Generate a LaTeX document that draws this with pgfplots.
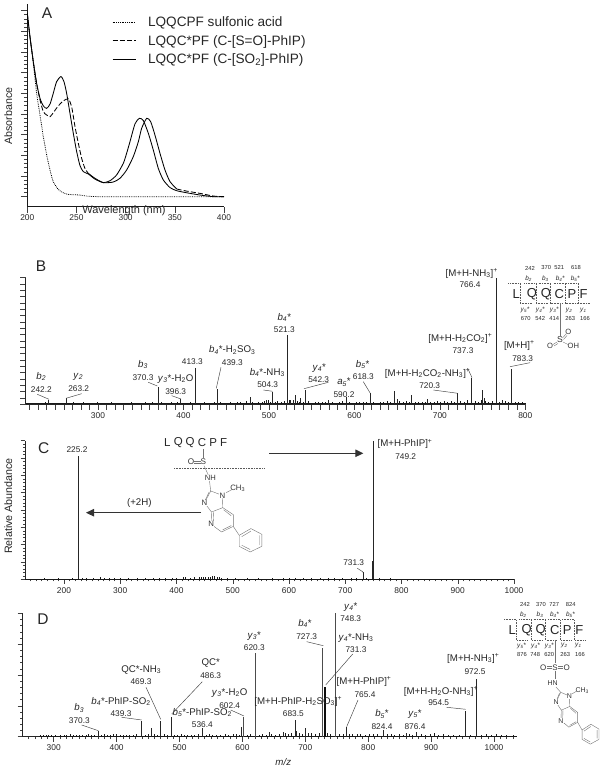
\documentclass[border=0pt]{standalone}
\usepackage{fontspec}
\setmainfont{Liberation Sans}
\usepackage{pgfplots}
\pgfplotsset{compat=1.18}
\usetikzlibrary{arrows.meta}

\newcommand\fs[1]{\fontsize{#1}{#1}\selectfont}
\newcommand\nm[3]{\node[txt,font=\fs{8.3}] at (#1,#2) {#3};}
\newcommand\ion[3]{\node[txt,font=\fs{9.7}] at (#1,#2) {#3};}
\newcommand\tn[3]{\node[txt,font=\fs{5.8}] at (#1,#2) {#3};}
\newcommand\pan[3]{\node[txt,font=\fs{15.5}] at (#1,#2) {#3};}
\newcommand\bb[1]{\textit{b}\textsubscript{\textit{#1}}}
\newcommand\yy[1]{\textit{y}\textsubscript{\textit{#1}}}
\newcommand\aion[1]{\textit{a}\textsubscript{\textit{#1}}}
\newcommand\sub[1]{\textsubscript{#1}}
\newcommand\sps{\textsuperscript{+}}

% imidazopyridine + phenyl, origin at C2, #1 = font size
\newcommand\phip[1]{
  \draw[bnd] (0,0)--(-6.2,13.7)--(0.8,24.6)--(12.1,19.5)--(11.7,5.1)--cycle;
  \draw[bnd] (-1.5,1)--(-6,12);
  \draw[bnd] (0.8,24.6)--(0.4,39)--(10.9,48)--(22.6,41.4)--(22.6,27.7)--(12.1,19.5);
  \draw[bnd] (3,25)--(2.6,37.5) (12,45.5)--(20.5,40.5) (20.5,29)--(13,22);
  \draw[bnd] (13,3.5)--(21,-1.5);
  \draw[bnd] (22.6,41.4)--(28.5,51.9);
  \draw[bnd] (28.5,51.9)--(40.2,44)--(51.1,50.7)--(51.1,64.8)--(39.4,71.4)--(28.5,64.8)--cycle;
  \draw[bnd] (31,53.5)--(40.2,47) (48.5,52)--(48.5,63.5) (39.4,68.5)--(31,63.5);
  \node[chem,font=\fs{#1},fill=white] at (-6.2,13.7) {N};
  \node[chem,font=\fs{#1},fill=white] at (11.7,5.1) {N};
  \node[chem,font=\fs{#1},fill=white] at (0.4,39) {N};
  \node[chem,font=\fs{#1},anchor=west] at (19,-3) {CH\sub{3}};
}

\pgfplotsset{
  spec/.style={
    scale only axis, axis lines=left, axis line style={-,black!85,line width=.7pt},
    tick align=outside, every tick/.style={black!75,line width=.45pt},
    ytick distance=25, yticklabels={},
    major tick length=5pt, minor tick length=3pt,
    xtick distance=100,
    ymin=0, ymax=100,
    tick label style={font=\fs{8.4},text=black!85},
    /pgf/number format/assume math mode=true,
    /pgf/number format/1000 sep={},
    clip=false,
  },
  pk/.style={ycomb,black!85,line width=.55pt,mark=none},
  nz/.style={ycomb,black!90,line width=.5pt,mark=none},
}
\tikzset{
  txt/.style={text=black!85,inner sep=0pt,align=center},
  ld/.style={black!75,line width=.45pt},
  bnd/.style={black!55,line width=.4pt},
  dot/.style={black!65,line width=.6pt,densely dotted},
  chem/.style={text=black!80,inner sep=.4pt},
}

\begin{document}
\begin{tikzpicture}
\path[use as bounding box] (0,0) rectangle (603pt,770pt);

% ---------- A
\begin{axis}[
  at={(27.3pt,563.3pt)}, anchor=south west,
  scale only axis, width=196.7pt, height=202.7pt,
  axis lines=left, axis line style={-,black!90,line width=.8pt},
  tick align=outside, every tick/.style={black!75,line width=.5pt},
  xmin=200, xmax=400, ymin=-0.484, ymax=9.32,
  xtick={200,250,300,350,400},
  ytick={0,1,...,9}, yticklabels={}, minor y tick num=4,
  major tick length=6.5pt, minor tick length=3.5pt,
  tick label style={font=\fs{8.4},text=black!85},
  /pgf/number format/assume math mode=true,
  xticklabel style={yshift=2.5pt},
  legend style={at={(0.43,0.942)},anchor=north west,draw=none,fill=none,
    font=\fs{13.6},text=black!85,row sep=4.6pt,inner sep=0pt,
    nodes={inner sep=1.1pt}},
  legend cell align=left,
  legend image code/.code={\draw[#1] (0,0)--(23pt,0);},
]
\addplot[black,line width=.8pt,densely dotted,smooth,tension=.4] coordinates {
(200,8.87)(202.7,7.74)(206.1,6.45)(209.5,5)(212.9,3.95)(216.3,2.9)(219.7,2.02)(223.1,1.29)(226.4,.73)(231.5,.35)(236.6,.19)(241.7,.11)(253.6,.08)(273.9,0)(400,0)};
\addlegendentry{\hspace{11pt}LQQCPF sulfonic acid}
\addplot[black,line width=.85pt,dash pattern=on 5pt off 2.2pt,smooth,tension=.4] coordinates {
(200,8.87)(202.7,7.74)(206.1,6.53)(209.5,5.48)(212.9,4.68)(216.3,4.11)(219.7,3.95)(223.1,3.87)(226.4,4.06)(231.5,4.39)(236.6,4.63)(241.7,4.73)(245.1,4.35)(248.5,3.39)(251.9,2.58)(255.3,1.85)(258.6,1.37)(262,1.13)};
\addlegendentry{\hspace{11pt}LQQC*PF (C-[S=O]-PhIP)}
\addplot[black,line width=.85pt,smooth,tension=.4] coordinates {
(200,8.87)(202.7,7.74)(206.1,6.53)(209.5,5.48)(212.9,4.76)(216.3,4.39)(219.7,4.27)(223.1,4.48)(226.4,5)(229.8,5.56)(234.2,5.81)(237.3,5.56)(240,5)(243.4,4.03)(246.8,3.06)(250.2,2.18)(253.6,1.5)(257,1.21)(262,1.1)(268.8,.85)(277.3,.68)(284,.77)(290.8,1.05)(297.6,1.61)(301,2.1)(304.4,2.66)(309.5,3.52)(313.9,3.79)(318,3.68)(323.1,3.06)(328.1,2.26)(333.2,1.37)(338.3,.81)(345.1,.44)(351.9,.29)(362,.19)(375.6,.08)(389.2,0)(400,0)};
\addlegendentry{\hspace{11pt}LQQC*PF (C-[SO\sub{2}]-PhIP)}
\addplot[forget plot,black,line width=.85pt,smooth,tension=.4] coordinates {
(262,1.13)(268.8,.89)(277.3,.68)(287.5,.71)(294.2,.89)(301,1.29)(307.8,1.94)(312.9,2.66)(316.3,3.31)(321.4,3.79)(325.4,3.63)(329.8,2.98)(334.9,2.1)(340,1.29)(345.1,.73)(351.9,.37)};
\addplot[forget plot,black,line width=.85pt,dash pattern=on 5pt off 2.2pt,smooth,tension=.4] coordinates {
(351.9,.37)(362,.27)(375.6,.16)(389.2,.03)(400,0)};
\end{axis}

% ---------- B
\begin{axis}[spec,
  at={(25.7pt,365.7pt)}, anchor=south west, width=499.6pt, height=126.6pt,
  xmin=215.4, xmax=800,
  minor xtick={220,230,...,800},
  major tick length=5.5pt, minor tick length=5.5pt,
  minor y tick num=4,
  xticklabel style={yshift=.5pt},
]
\addplot[black!90,line width=.8pt] coordinates {(216,.5)(800,.5)};
\addplot[nz] coordinates {
(218,.8)(223,1.2)(226,.7)(231,1.1)(235,.8)(238,1.6)(246,1)(250,.8)(254,1.4)(258,.9)(267,1.2)(271,1.5)(275,.8)(279,1.1)(283,1.7)(287,.9)(291,1.2)(295,.8)(299,1.5)(303,1)(307,.8)(311,1.3)(315,1.6)(319,.9)(323,1.1)(327,.8)(331,1.4)(335,1)(339,1.7)(343,.8)(347,1.2)(351,1)(355,1.5)(359,.9)(363,1.8)(367,1.1)(374,1.5)(378,1)(382,.8)(386,1.6)(390,1.1)(393,1.9)(400,1.3)(404,.9)(408,1.7)(416,1.4)(420,1)(424,1.8)(428,1.2)(432,.9)(436,1.6)(443,1.8)(447,1.1)(451,1.4)(455,2)(459,1.2)(463,1.6)(467,2.2)(471,1.3)(474,2.4)(481,1.9)(484,1.4)(488,2.2)(492,1.6)(495,2.7)(499,3)(502,2)(507,1.7)(510,2.4)(514,1.5)(518,2.8)(524,3)(533,2.3)(536,1.9)(540,2.2)(546,2.7)(550,1.4)(554,2)(558,1.6)(562,2.2)(566,1.5)(574,1.9)(578,1.4)(582,1.8)(586,2.4)(594,2)(598,1.4)(602,1.9)(606,1.5)(610,2.1)(614,1.6)(622,2)(626,1.4)(630,2.2)(634,1.8)(638,2.5)(642,1.6)(653,2.3)(657,1.7)(661,2.4)(664,1.8)(671,2.1)(675,1.5)(679,2.2)(683,1.8)(689,2)(693,1.5)(697,2.5)(701,1.8)(705,2.6)(709,1.9)(713,2.4)(717,1.7)(724,2.7)(728,1.9)(732,3)(741,2.5)(745,1.7)(748,3.5)(753,2.6)(757,1.8)(761,2.5)(770,2.1)(777,2.4)(780,1.7)(788,2.2)(792,1.8)(796,1.5)(800,1)};
\addplot[pk] coordinates {
(242.2,3.4)(263.2,4.7)(370.3,14)(396.3,4)(413.3,29)(439.3,12)(478,6)(497,3)(504.3,10)(521.3,55)(525,3.5)(528,3)(531,7)(537,5)(542.3,11)(570,3.4)(590.2,6)(618.3,8.7)(647,10.5)(650,4.5)(667,7.4)(685,4.5)(720.3,8.7)(737.3,21)(750,11)(752,5)(766.4,100)(773,3.5)(783.3,28)};
\addplot[ycomb,black!85,line width=1.2pt,mark=none] coordinates {(766.1,39)(783.6,15)(749.5,5)};
\end{axis}

% ---------- C
\begin{axis}[spec,
  at={(25pt,190.7pt)}, anchor=south west, width=489pt, height=138.6pt,
  xmin=130.7, xmax=1000,
  minor xtick={140,150,...,1000},
  ytick distance=12.5, minor y tick num=4,
  major tick length=4.5pt, minor tick length=2.2pt,
  xticklabel style={yshift=-.8pt},
]
\addplot[black!90,line width=.7pt] coordinates {(131,.2)(1000,.2)};
\addplot[nz] coordinates {
(150,.4)(165,.6)(172,.4)(190,.7)(205,.5)(215,.7)(232,.9)(240,.7)(252,.9)(265,1.6)(272,1)(280,1.2)(290,.8)(300,1)(315,.7)(330,.9)(345,.6)(358,1)(370,1.1)(380,.8)(392,1.2)(400,.9)(412,1.3)(416,1.6)(424,.9)(432,1.3)(440,1.7)(444,1.4)(448,1.9)(452,1.5)(456,2)(460,1.8)(464,2.4)(468,2.6)(472,2)(476,1.5)(480,1.2)(490,.9)(505,.7)(525,.6)(545,.8)(570,.6)(590,1.1)(600,.8)(612,1)(625,.9)(640,1.1)(655,1.2)(670,.8)(680,1)(695,1.2)(710,.8)(720,.6)(738,.9)(760,.7)(780,.6)(810,.5)(840,.5)(880,.4)(920,.4)(960,.4)(990,.3)};
\addplot[pk] coordinates {(225.2,89)(731.3,5.5)(749.2,100)};
\addplot[ycomb,black!85,line width=1.2pt,mark=none] coordinates {(225.5,7)(748.8,13.5)};
\end{axis}

% ---------- D
\begin{axis}[spec,
  at={(22.7pt,33.3pt)}, anchor=south west, width=494.6pt, height=123.4pt,
  xmin=250.7, xmax=1037,
  minor xtick={260,270,...,1030},
  minor y tick num=4,
  major tick length=5pt, minor tick length=2.5pt,
  xticklabel style={yshift=.5pt},
]
\addplot[black!90,line width=.9pt] coordinates {(276,.4)(1037,.4)};
\addplot[nz] coordinates {
(279,1)(283,1.5)(288,1)(292,1.7)(296,1.1)(302,1.4)(306,.9)(311,1.6)(316,1)(320,1.4)(326,1.8)(331,1.1)(336,1.5)(341,1)(346,1.7)(351,1.2)(355,2)(360,1.1)(365,1.6)(375,1.2)(380,1.8)(385,1.2)(390,1.5)(395,2.4)(399,1.8)(405,1.2)(410,1.6)(415,1.1)(420,1.4)(427,1.7)(432,2.2)(445,1.4)(450,1.8)(460,2.1)(465,1.3)(475,1.9)(480,1.4)(492,1.6)(497,1.2)(502,2.1)(507,1.3)(512,1.7)(518,1.2)(523,1.6)(530,1.9)(542,1.4)(547,1.9)(552,1.2)(558,1.7)(565,1.3)(572,1.8)(578,1.2)(585,1.9)(590,2.4)(595,1.5)(607,1.6)(612,2.1)(626,1.5)(632,2)(638,1.6)(646,2.2)(652,1.5)(658,2.1)(668,3.2)(673,2.2)(678,2.8)(690,3.4)(695,2.1)(704,2.8)(710,3.3)(716,2.4)(722,3)(735,2.6)(740,2.2)(754,2)(760,2.4)(770,1.9)(775,2.5)(782,1.8)(788,2.2)(795,1.7)(802,2.4)(808,1.8)(815,2.3)(830,1.8)(836,2.2)(842,1.6)(850,2.2)(856,1.5)(865,2)(870,1.5)(884,1.8)(890,1.3)(898,2.1)(905,3)(912,1.5)(920,1.8)(928,1.4)(935,1.7)(945,1.3)(962,1.5)(980,1.4)(988,1.8)(995,1.3)(1003,2)(1012,1.4)(1020,1.7)(1030,1.2)};
\addplot[pk] coordinates {
(370.3,5)(439.3,12.7)(455,6.8)(469.3,13)(486.3,16)(536.4,6.8)(598,8)(642,4)(665,4)(683.5,13.5)(686,5)(700,6.8)(765.4,7.5)(824.4,5.4)(860,3)(876.4,4)(954.5,21)(972.5,47)};
\addplot[ycomb,black!70,line width=1.1pt,mark=none] coordinates {(602.4,16)(620.3,67.6)(727.3,71.6)(748.3,100)};
\addplot[ycomb,black!95,line width=1.6pt,mark=none] coordinates {(731.3,40.5)};
\end{axis}

% ---------- annotations, in pixels of the reference, y downwards
\begin{scope}[x=1pt,y=-1pt,yshift=770pt]
\pan{47}{13}{A}
\pan{41}{266}{B}
\pan{43.7}{447.7}{C}
\pan{43}{619}{D}
\node[txt,font=\fs{10.7},rotate=90] at (8.3,116) {Absorbance};
\node[txt,font=\fs{10.7},rotate=90] at (8.3,506) {Relative Abundance};
\node[txt,font=\fs{11}] at (124,211) {Wavelength (nm)};

% B labels
\ion{41.3}{376.7}{\bb{2}}\nm{41.3}{389.3}{242.2}
\ion{78.3}{376.7}{\yy{2}}\nm{78.7}{389}{263.2}
\ion{143}{364.7}{\bb{3}}\nm{143}{377.3}{370.3}
\ion{175.7}{379}{\yy{3}*-H\sub{2}O}\nm{175.7}{391.7}{396.3}
\nm{192.3}{361.3}{413.3}
\ion{232.3}{350}{\bb{4}*-H\sub{2}SO\sub{3}}\nm{232.3}{362.7}{439.3}
\ion{267.3}{372.3}{\bb{4}*-NH\sub{3}}\nm{267.7}{385}{504.3}
\ion{284.3}{317.3}{\bb{4}*}\nm{284.3}{329.7}{521.3}
\ion{319.3}{367.7}{\yy{4}*}\nm{318.7}{380}{542.3}
\ion{344}{382}{\aion{5}*}\nm{344}{394.7}{590.2}
\ion{362.7}{364.3}{\bb{5}*}\nm{363.3}{377}{618.3}
\ion{427.7}{373.3}{[M+H-H\sub{2}CO\sub{2}-NH\sub{3}]\sps}\nm{429.7}{385.7}{720.3}
\ion{460.3}{338.3}{[M+H-H\sub{2}CO\sub{2}]\sps}\nm{463}{351}{737.3}
\ion{471.7}{273.7}{[M+H-NH\sub{3}]\sps}\nm{470}{284.7}{766.4}
\ion{519.3}{345.7}{[M+H]\sps}\nm{522.7}{358.3}{783.3}
\draw[ld] (37.3,394.3)--(49,399.3) (66,398.3)--(81.7,393.7) (148.3,382.3)--(157.3,386)
  (171.7,395.7)--(181,399) (221,367.3)--(216.3,388.3) (263.3,390)--(272.7,391.3)
  (304,388.7)--(328.3,382.3) (363.3,381.7)--(370.3,393.3) (433.3,390)--(457.7,393.3)
  (467.7,368.3)--(472,377.7) (510,366.7)--(530,362.7);

% B sequence
\foreach \x/\l in {516.3/L,532/Q,546/Q,559.3/C,572/P,583.7/F}
  {\node[txt,font=\fs{13}] at (\x,294.3) {\l};}
\foreach \x/\l in {530/242,546.3/370,559.3/521,576/618} {\tn{\x}{268}{\l}}
\foreach \x/\l in {525.7/670,540.3/542,554.3/414,570.3/263,585/166} {\tn{\x}{319}{\l}}
\node[txt,font=\fs{6.4}] at (528.7,278.7) {\bb{2}};
\node[txt,font=\fs{6.4}] at (545.3,278.7) {\bb{3}};
\node[txt,font=\fs{6.4}] at (560.3,278.7) {\bb{4}*};
\node[txt,font=\fs{6.4}] at (575.3,278.7) {\bb{5}*};
\node[txt,font=\fs{6.4}] at (525,310) {\yy{5}*};
\node[txt,font=\fs{6.4}] at (540.3,310) {\yy{4}*};
\node[txt,font=\fs{6.4}] at (554.3,310) {\yy{3}*};
\node[txt,font=\fs{6.4}] at (569,310) {\yy{2}};
\node[txt,font=\fs{6.4}] at (583.3,310) {\yy{1}};
\foreach \x in {520.3,536.3,550.7,565.7,578.3}
  {\draw[dot] (\x-12,283.3)--(\x,283.3)--(\x,303.7)--(\x+12,303.7);}
\draw[bnd] (559.7,303)--(559.7,336);
\draw[bnd] (562.5,338)--(566,334) (563.5,339.5)--(567,335.5) (557,342)--(553,344.5) (558,343.5)--(554,346) (563,342)--(568,344.5);
\node[chem,font=\fs{8.6}] at (560,340) {S};
\node[chem,font=\fs{7.6}] at (568.3,331.7) {O};
\node[chem,font=\fs{7.6}] at (550,345.7) {O};
\node[chem,font=\fs{7.6}] at (573.3,345.7) {OH};

% C labels
\nm{77}{450}{225.2}
\foreach \x/\l in {167.3/L,178.3/Q,190/Q,202/C,213.3/P,223.7/F}
  {\node[txt,font=\fs{11.5}] at (\x,442.7) {\l};}
\draw[bnd] (203.3,449.3)--(203.3,458.3);
\node[chem,font=\fs{8.2}] at (191,462) {O};
\node[chem,font=\fs{8.2}] at (203.3,462) {S};
\draw[bnd] (194,461)--(200.5,461) (194,463)--(200.5,463);
\draw[dot] (174,468.7)--(264,468.7);
\draw[bnd] (204,465.7)--(208.3,475);
\node[chem,font=\fs{7.6}] at (210.3,477.7) {NH};
\draw[bnd] (209.5,481)--(210.7,491);
\begin{scope}[shift={(210.7,491)},yscale=.854]
\phip{7.8}
\end{scope}
\draw[black!80,line width=1pt,-{Triangle[length=8pt,width=7.5pt]}] (269.3,453.3)--(363.3,453.3);
\draw[black!80,line width=1pt,-{Triangle[length=8pt,width=7.5pt]}] (201,512.7)--(86,512.7);
\ion{139.3}{502.7}{(+2H)}
\ion{405}{444}{[M+H-PhIP]\sps}
\nm{405.7}{456.7}{749.2}
\nm{353.7}{562.7}{731.3}
\draw[ld] (357.3,568.3)--(362.7,571.7)--(363.3,573);

% D labels
\ion{79.3}{708}{\bb{3}}\nm{79.3}{720.7}{370.3}
\ion{121}{701.7}{\bb{4}*-PhIP-SO\sub{2}}\nm{121}{714}{439.3}
\ion{141.3}{669.7}{QC*-NH\sub{3}}\nm{141}{681.7}{469.3}
\ion{210.7}{663}{QC*}\nm{210.7}{675.7}{486.3}
\ion{229.7}{692.7}{\yy{3}*-H\sub{2}O}\nm{229.7}{705.3}{602.4}
\ion{202.3}{712.7}{\bb{5}*-PhIP-SO\sub{2}}\nm{202.3}{724.7}{536.4}
\ion{254.3}{635.7}{\yy{3}*}\nm{254.3}{648}{620.3}
\ion{305}{623.3}{\bb{4}*}\nm{306.7}{636.7}{727.3}
\ion{350.7}{606.7}{\yy{4}*}\nm{350.7}{619}{748.3}
\ion{356}{637.7}{\yy{4}*-NH\sub{3}}\nm{356}{649.7}{731.3}
\ion{298.3}{701.7}{[M+H-PhIP-H\sub{2}SO\sub{3}]\sps}\nm{293.3}{713.7}{683.5}
\ion{364}{681.7}{[M+H-PhIP]\sps}\nm{365}{694.7}{765.4}
\ion{382}{714}{\bb{5}*}\nm{382}{726.7}{824.4}
\ion{415}{714}{\yy{5}*}\nm{415}{726.7}{876.4}
\ion{441}{691.7}{[M+H-H\sub{2}O-NH\sub{3}]\sps}\nm{438.7}{702.3}{954.5}
\ion{473.3}{658.3}{[M+H-NH\sub{3}]\sps}\nm{475}{671.3}{972.5}
\ion{283.3}{762.3}{\textit{m/z}}
\draw[ld] (81.7,725)--(98.3,730.7) (121.7,717.3)--(141.7,720) (146,687.3)--(160.7,719.3)
  (202.3,681.7)--(171.7,714) (230.7,710)--(244,716) (306.7,641.7)--(323.3,645.7)
  (352.7,654)--(325.7,685) (358,700)--(346.7,726.7) (446.7,707.3)--(465.7,709.3);

% D sequence
\foreach \x/\l in {512.3/L,526.7/Q,540.7/Q,554.7/C,567.3/P,579.3/F}
  {\node[txt,font=\fs{13}] at (\x,630) {\l};}
\foreach \x/\l in {525/242,541/370,554.3/727,570.7/824} {\tn{\x}{604.3}{\l}}
\foreach \x/\l in {522/876,535.3/748,549.3/620,565.3/263,580/166} {\tn{\x}{655}{\l}}
\node[txt,font=\fs{6.4}] at (523.3,614.3) {\bb{2}};
\node[txt,font=\fs{6.4}] at (540,614.3) {\bb{3}};
\node[txt,font=\fs{6.4}] at (554.7,614.3) {\bb{4}*};
\node[txt,font=\fs{6.4}] at (570.7,614.3) {\bb{5}*};
\node[txt,font=\fs{6.4}] at (521.7,645.7) {\yy{5}*};
\node[txt,font=\fs{6.4}] at (535.7,645.7) {\yy{4}*};
\node[txt,font=\fs{6.4}] at (549.3,645.7) {\yy{3}*};
\node[txt,font=\fs{6.4}] at (564.3,645.7) {\yy{2}};
\node[txt,font=\fs{6.4}] at (578.3,645.7) {\yy{1}};
\foreach \x in {516,531.3,545.7,560,574}
  {\draw[dot] (\x-12,619.3)--(\x,619.3)--(\x,640)--(\x+12,640);}
\draw[bnd] (554.7,640)--(554.7,663) (555,671)--(555,679.3);
\draw[bnd] (547,666.3)--(552,666.3) (547,668.3)--(552,668.3) (558,666.3)--(563,666.3) (558,668.3)--(563,668.3);
\node[chem,font=\fs{8}] at (543.3,667.3) {O};
\node[chem,font=\fs{8}] at (555,667.3) {S};
\node[chem,font=\fs{8}] at (566.7,667.3) {O};
\node[chem,font=\fs{7}] at (552.7,683.3) {HN};
\draw[bnd] (556,687)--(560.7,692.3);
\begin{scope}[shift={(560.7,692.3)},xscale=.75,yscale=.726]
\phip{7}
\end{scope}
\end{scope}
\end{tikzpicture}
\end{document}
